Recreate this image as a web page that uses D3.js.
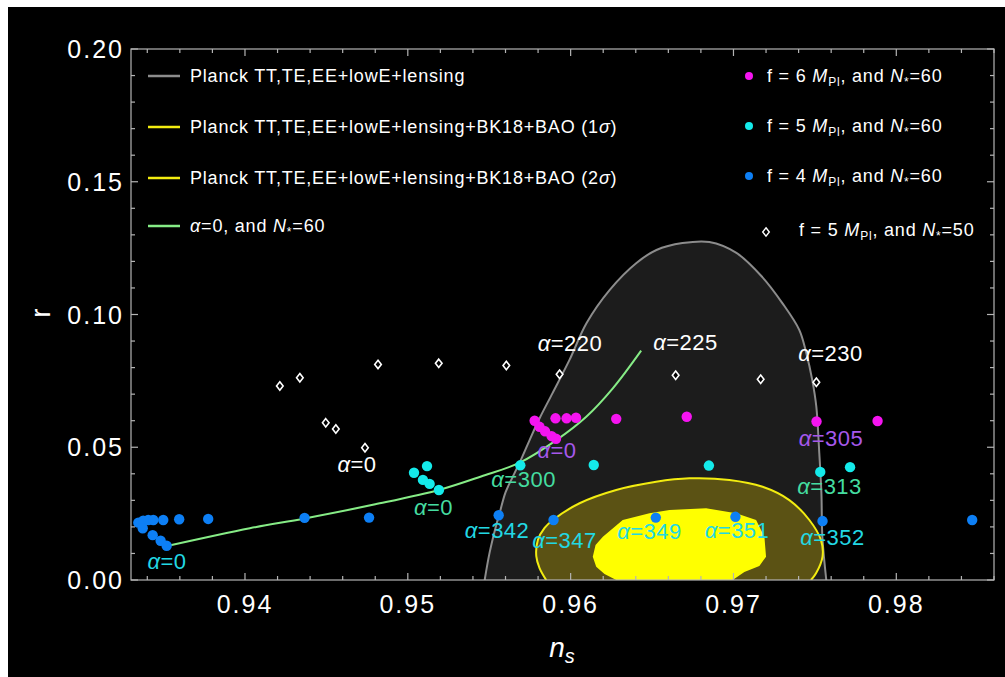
<!DOCTYPE html>
<html>
<head>
<meta charset="utf-8">
<script src="https://cdn.jsdelivr.net/npm/d3@7"></script>
<style>
  html, body { margin: 0; padding: 0; background: #ffffff; }
  svg { display: block; }
  text { font-family: "Liberation Sans", Arial, Helvetica, sans-serif; }
</style>
</head>
<body>
<svg id="chart" width="1005" height="677"></svg>
<script>
// ---- data: (n_s, r) ----
const blueF4 = [
  [0.93345, 0.0216], [0.93375, 0.0223], [0.93406, 0.0226], [0.93437, 0.0226],
  [0.93498, 0.0226], [0.93596, 0.0229], [0.93774, 0.0230], [0.94366, 0.0234],
  [0.94762, 0.0235], [0.95558, 0.0244], [0.95895, 0.0226], [0.96523, 0.0235],
  [0.97012, 0.0238], [0.97547, 0.0222], [0.98466, 0.0226],
  [0.93372, 0.0195], [0.93433, 0.0169], [0.93482, 0.0148], [0.93519, 0.0129]
];
const cyanF5 = [
  [0.95038, 0.0404], [0.95118, 0.0429], [0.95093, 0.0377], [0.95134, 0.0362],
  [0.95191, 0.0339], [0.95691, 0.0432], [0.96142, 0.0433], [0.96849, 0.0431],
  [0.97533, 0.0407], [0.97716, 0.0425]
];
const magentaF6 = [
  [0.95779, 0.0600], [0.95809, 0.0577], [0.95843, 0.0560], [0.95883, 0.0542],
  [0.95910, 0.0532], [0.95907, 0.0609], [0.95975, 0.0609], [0.96033, 0.0611],
  [0.96280, 0.0607], [0.96713, 0.0615], [0.97510, 0.0597], [0.97885, 0.0599]
];
const diamondF5N50 = [
  [0.94214, 0.0731], [0.94337, 0.0762], [0.94496, 0.0592], [0.94558, 0.0569],
  [0.94737, 0.0498], [0.94817, 0.0812], [0.95190, 0.0816], [0.95605, 0.0808],
  [0.95932, 0.0775], [0.96645, 0.0771], [0.97167, 0.0756], [0.97509, 0.0745]
];
const alphaZeroLine = [
  [0.93521, 0.0128], [0.94030, 0.0195], [0.94367, 0.0232], [0.94800, 0.0285],
  [0.95196, 0.0340], [0.95450, 0.0390], [0.95687, 0.0442], [0.95912, 0.0527],
  [0.96096, 0.0615], [0.96259, 0.0722], [0.96433, 0.0864]
];
const planckContour = [
  [0.95472, 0.0000], [0.95502, 0.0102], [0.95540, 0.0200], [0.95564, 0.0252],
  [0.95600, 0.0330], [0.95644, 0.0388], [0.95700, 0.0460], [0.95748, 0.0527],
  [0.95810, 0.0610], [0.95889, 0.0704], [0.95993, 0.0829], [0.96098, 0.0968],
  [0.96239, 0.1092], [0.96404, 0.1194], [0.96527, 0.1243], [0.96687, 0.1269],
  [0.96852, 0.1273], [0.97018, 0.1232], [0.97177, 0.1141], [0.97300, 0.1043],
  [0.97404, 0.0942], [0.97447, 0.0855], [0.97484, 0.0753], [0.97509, 0.0652],
  [0.97527, 0.0478], [0.97540, 0.0328], [0.97546, 0.0162], [0.97570, 0.0000]
];
const bk18TwoSigma = [
  [0.95850, 0.0000], [0.95809, 0.0045], [0.95789, 0.0090], [0.95799, 0.0151],
  [0.95840, 0.0196], [0.95891, 0.0226], [0.96055, 0.0289], [0.96280, 0.0339],
  [0.96525, 0.0370], [0.96729, 0.0383], [0.96975, 0.0377], [0.97179, 0.0351],
  [0.97343, 0.0301], [0.97466, 0.0226], [0.97537, 0.0151], [0.97547, 0.0088],
  [0.97507, 0.0025], [0.97476, 0.0000]
];
const bk18OneSigma = [
  [0.96280, 0.0000], [0.96208, 0.0023], [0.96157, 0.0050], [0.96136, 0.0088],
  [0.96153, 0.0132], [0.96198, 0.0163], [0.96320, 0.0226], [0.96484, 0.0251],
  [0.96607, 0.0264], [0.96832, 0.0270], [0.97016, 0.0251], [0.97139, 0.0226],
  [0.97190, 0.0163], [0.97200, 0.0088], [0.97159, 0.0053], [0.97067, 0.0030],
  [0.96995, 0.0000]
];
// alpha annotations: [label, n_s, r, colour group]
const alphaLabels = [
  ["220", 0.95996, 0.0893, "white"], ["225", 0.96705, 0.0898, "white"],
  ["230", 0.97596, 0.0854, "white"], ["0", 0.94688, 0.0437, "white"],
  ["305", 0.97599, 0.0534, "purple"], ["0", 0.95916, 0.0490, "purple"],
  ["313", 0.97590, 0.0355, "teal"], ["300", 0.95711, 0.0380, "teal"],
  ["0", 0.95158, 0.0275, "teal"],
  ["352", 0.97608, 0.0163, "cyan"], ["351", 0.97022, 0.0188, "cyan"],
  ["349", 0.96484, 0.0186, "cyan"], ["347", 0.95962, 0.0151, "cyan"],
  ["342", 0.95548, 0.0188, "cyan"], ["0", 0.93521, 0.0072, "cyan"]
];
const xTickLabels = [0.94, 0.95, 0.96, 0.97, 0.98];
const yTickLabels = [0.00, 0.05, 0.10, 0.15, 0.20];

// ---- layout ----
const svg = d3.select("#chart");
const pLeft = 131, pRight = 994, pTop = 49, pBottom = 580;
const x = d3.scaleLinear().domain([0.933, 0.986]).range([pLeft, pRight]);
const y = d3.scaleLinear().domain([0, 0.2]).range([pBottom, pTop]);

const colors = {
  blue: "#0d7ff5", cyan: "#14eaea", magenta: "#f514f0",
  green: "#86ec86", grayLine: "#8c8c8c", grayFill: "#1c1c1c",
  yellow: "#f2ec10", olive: "#5b5214", brightYellow: "#ffff00",
  labelWhite: "#ffffff", labelCyan: "#22d8e4", labelTeal: "#45dca0", labelPurple: "#a658ec"
};
const labelColor = { white: colors.labelWhite, cyan: colors.labelCyan, teal: colors.labelTeal, purple: colors.labelPurple };

svg.append("rect").attr("x", 8).attr("y", 7).attr("width", 997).attr("height", 670).attr("fill", "#000");

svg.append("clipPath").attr("id", "plotClip")
  .append("rect").attr("x", pLeft).attr("y", pTop).attr("width", pRight - pLeft).attr("height", pBottom - pTop);

const plot = svg.append("g").attr("clip-path", "url(#plotClip)");
const smooth = d3.line().x(d => x(d[0])).y(d => y(d[1])).curve(d3.curveCatmullRom.alpha(0.5));

// Planck region
plot.append("path").datum(planckContour).attr("d", smooth)
  .attr("fill", colors.grayFill).attr("stroke", colors.grayLine).attr("stroke-width", 2);
// BK18 2 sigma
plot.append("path").datum(bk18TwoSigma).attr("d", smooth)
  .attr("fill", colors.olive).attr("stroke", colors.yellow).attr("stroke-width", 2);
// BK18 1 sigma
plot.append("path").datum(bk18OneSigma).attr("d", d3.line().x(d => x(d[0])).y(d => y(d[1])))
  .attr("fill", colors.brightYellow).attr("stroke", "none");

// alpha = 0 line
plot.append("path").datum(alphaZeroLine).attr("d", smooth)
  .attr("fill", "none").attr("stroke", colors.green).attr("stroke-width", 2);

// point series
function dots(data, color) {
  plot.append("g").selectAll("circle").data(data).join("circle")
    .attr("cx", d => x(d[0])).attr("cy", d => y(d[1])).attr("r", 5.2).attr("fill", color);
}
dots(blueF4, colors.blue);
dots(cyanF5, colors.cyan);
dots(magentaF6, colors.magenta);

const diamond = (cx, cy) => `M${cx},${cy - 4.2}L${cx + 3.3},${cy}L${cx},${cy + 4.2}L${cx - 3.3},${cy}Z`;
plot.append("g").selectAll("path").data(diamondF5N50).join("path")
  .attr("d", d => diamond(x(d[0]), y(d[1])))
  .attr("fill", "#000").attr("stroke", "#fff").attr("stroke-width", 1.6);

// alpha annotations
const ann = svg.append("g");
alphaLabels.forEach(([val, nx, ry, grp]) => {
  const t = ann.append("text").attr("x", x(nx)).attr("y", y(ry)).attr("dy", "0.36em")
    .attr("text-anchor", "middle").attr("font-size", 22).attr("letter-spacing", 0.5)
    .attr("fill", labelColor[grp]);
  t.append("tspan").attr("font-style", "italic").text("α");
  t.append("tspan").text("=" + val);
});

// frame and ticks
const frame = svg.append("g").attr("stroke", "#b4b4b4").attr("stroke-width", 1.2);
frame.append("rect").attr("x", pLeft).attr("y", pTop).attr("width", pRight - pLeft).attr("height", pBottom - pTop).attr("fill", "none");
const xMinor = d3.range(0.934, 0.9861, 0.002);
xMinor.forEach(v => {
  const major = Math.abs(v * 100 - Math.round(v * 100)) < 1e-6;
  const len = major ? 7 : 4;
  frame.append("line").attr("x1", x(v)).attr("x2", x(v)).attr("y1", pBottom).attr("y2", pBottom - len);
  frame.append("line").attr("x1", x(v)).attr("x2", x(v)).attr("y1", pTop).attr("y2", pTop + len);
});
const yMinor = d3.range(0, 0.2001, 0.01);
yMinor.forEach(v => {
  const major = Math.abs(v * 20 - Math.round(v * 20)) < 1e-6;
  const len = major ? 7 : 4;
  frame.append("line").attr("y1", y(v)).attr("y2", y(v)).attr("x1", pLeft).attr("x2", pLeft + len);
  frame.append("line").attr("y1", y(v)).attr("y2", y(v)).attr("x1", pRight).attr("x2", pRight - len);
});

// tick labels
svg.append("g").selectAll("text").data(xTickLabels).join("text")
  .attr("x", d => x(d)).attr("y", 604).attr("dy", "0.36em").attr("text-anchor", "middle")
  .attr("font-size", 25).attr("letter-spacing", 2).attr("fill", "#fff").text(d => d.toFixed(2));
svg.append("g").selectAll("text").data(yTickLabels).join("text")
  .attr("x", 124).attr("y", d => y(d)).attr("dy", "0.36em").attr("text-anchor", "end")
  .attr("font-size", 25).attr("letter-spacing", 2).attr("fill", "#fff").text(d => d.toFixed(2));

// axis titles
const xt = svg.append("text").attr("x", 562).attr("y", 657).attr("text-anchor", "middle")
  .attr("font-size", 28).attr("fill", "#fff");
xt.append("tspan").attr("font-style", "italic").text("n");
xt.append("tspan").attr("font-style", "italic").attr("font-size", 20).attr("dy", 6).text("s");
svg.append("text").attr("transform", "translate(50,313) rotate(-90)").attr("text-anchor", "middle")
  .attr("font-size", 28).attr("fill", "#fff").text("r");

// legend: left column (lines)
const legendLines = [
  { y: 76, color: colors.grayLine, parts: [["Planck TT,TE,EE+lowE+lensing", ""]] },
  { y: 127, color: colors.yellow, parts: [["Planck TT,TE,EE+lowE+lensing+BK18+BAO (1", ""], ["σ", "i"], [")", ""]] },
  { y: 178, color: colors.yellow, parts: [["Planck TT,TE,EE+lowE+lensing+BK18+BAO (2", ""], ["σ", "i"], [")", ""]] },
  { y: 226, color: colors.green, parts: [["α", "i"], ["=0, and ", ""], ["N", "i"], ["*", "sub"], ["=60", "back"]] }
];
const leg = svg.append("g");
function writeParts(t, parts) {
  parts.forEach(([s, style]) => {
    const sp = t.append("tspan").text(s);
    if (style === "i") sp.attr("font-style", "italic");
    if (style === "sub") sp.attr("font-size", 12).attr("dy", 4);
    if (style === "back") sp.attr("dy", -4);
  });
}
legendLines.forEach(l => {
  leg.append("line").attr("x1", 148).attr("x2", 180).attr("y1", l.y).attr("y2", l.y)
    .attr("stroke", l.color).attr("stroke-width", 2.5);
  const t = leg.append("text").attr("x", 190).attr("y", l.y).attr("dy", "0.36em")
    .attr("font-size", 18).attr("letter-spacing", 0.8).attr("fill", "#fff");
  writeParts(t, l.parts);
});

// legend: right column (markers)
const legendMarks = [
  { y: 76, color: colors.magenta, f: "6", n: "60", tx: 767 },
  { y: 126, color: colors.cyan, f: "5", n: "60", tx: 767 },
  { y: 176, color: colors.blue, f: "4", n: "60", tx: 767 },
  { y: 230, color: null, f: "5", n: "50", tx: 799 }
];
legendMarks.forEach(m => {
  if (m.color) {
    leg.append("circle").attr("cx", 749).attr("cy", m.y).attr("r", 4).attr("fill", m.color);
  } else {
    leg.append("path").attr("d", diamond(766, m.y + 2)).attr("fill", "#000")
      .attr("stroke", "#fff").attr("stroke-width", 1.4);
  }
  const t = leg.append("text").attr("x", m.tx).attr("y", m.y).attr("dy", "0.36em")
    .attr("font-size", 18).attr("letter-spacing", 0.8).attr("fill", "#fff");
  writeParts(t, [["f = " + m.f + " ", ""], ["M", "i"], ["Pl", "sub"], [", and ", "back"], ["N", "i"], ["*", "sub"], ["=" + m.n, "back"]]);
});
</script>
</body>
</html>
